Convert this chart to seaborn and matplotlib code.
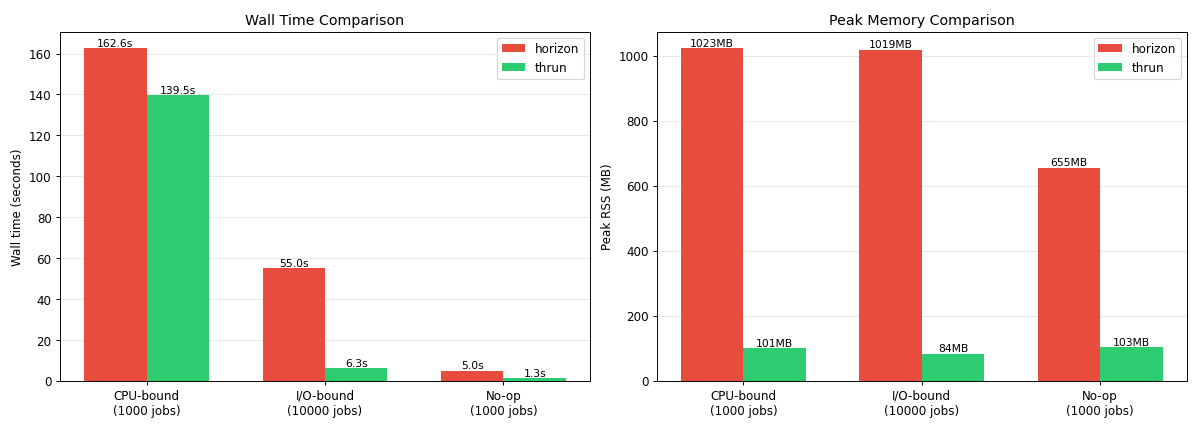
import pandas as pd
import matplotlib
matplotlib.use("Agg")
import matplotlib.pyplot as plt
import seaborn as sns

# data
workloads = ["CPU-bound\n(1000 jobs)", "I/O-bound\n(10000 jobs)", "No-op\n(1000 jobs)"]
tools = ["horizon", "thrun"]
wall_horizon = [162.6, 55.0, 5.0]
wall_thrun = [139.5, 6.3, 1.3]
mem_horizon = [1023, 1019, 655]
mem_thrun = [101, 84, 103]

palette = {"horizon": "#e74c3c", "thrun": "#2ecc71"}

wall_df = pd.DataFrame({
    "workload": workloads * 2,
    "tool": ["horizon"] * 3 + ["thrun"] * 3,
    "value": wall_horizon + wall_thrun,
})
mem_df = pd.DataFrame({
    "workload": workloads * 2,
    "tool": ["horizon"] * 3 + ["thrun"] * 3,
    "value": mem_horizon + mem_thrun,
})

fig, axes = plt.subplots(1, 2, figsize=(14, 5), dpi=1200 / 14)

panels = [
    (axes[0], wall_df, "Wall Time Comparison", "Wall time (seconds)", "{:.1f}s"),
    (axes[1], mem_df, "Peak Memory Comparison", "Peak RSS (MB)", "{:.0f}MB"),
]

for ax, df, title, ylabel, fmt in panels:
    sns.barplot(data=df, x="workload", y="value", hue="tool", hue_order=tools,
                palette=palette, width=0.7, saturation=1, errorbar=None, ax=ax, zorder=3)
    for cont in ax.containers:
        ax.bar_label(cont, labels=[fmt.format(v) for v in cont.datavalues], fontsize=9)
    ax.set_title(title, fontsize=12)
    ax.set_ylabel(ylabel, fontsize=10)
    ax.set_xlabel("")
    ax.tick_params(labelsize=10)
    ax.set_xlim(-0.485, 2.485)
    ax.yaxis.grid(True, alpha=0.3, zorder=0)
    ax.set_axisbelow(True)
    ax.legend(loc="upper right", fontsize=10)

fig.subplots_adjust(left=0.05, right=0.989, top=0.925, bottom=0.11, wspace=0.126)
plt.savefig("out.png", dpi=1200 / 14)
